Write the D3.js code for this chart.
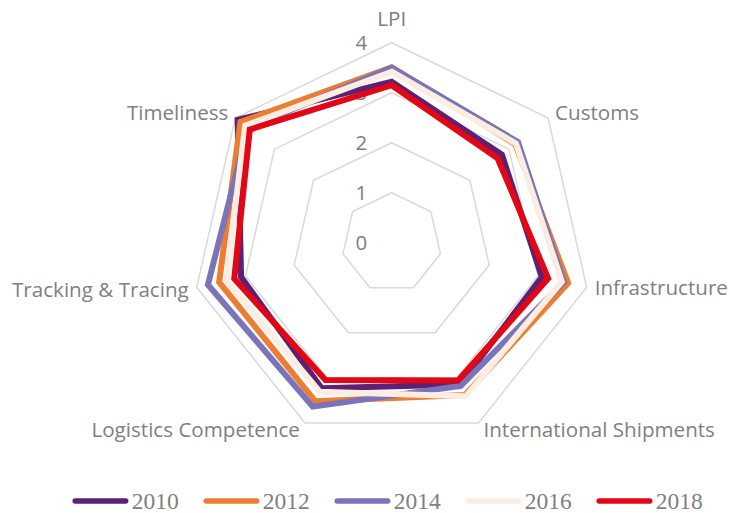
<!DOCTYPE html>
<html>
<head>
<meta charset="utf-8">
<script src="https://cdn.jsdelivr.net/npm/d3@7"></script>
<style>
  html, body { margin: 0; padding: 0; background: #fff; }
  svg { display: block; }
</style>
</head>
<body>
<svg id="chart" width="730" height="513"></svg>
<script>
// ---- data ----
const axesLabels = ["LPI", "Customs", "Infrastructure", "International Shipments",
                    "Logistics Competence", "Tracking & Tracing", "Timeliness"];
const years = ["2010", "2012", "2014", "2016", "2018"];
const values2010 = [3.22, 2.82, 3.08, 3.15, 3.23, 3.09, 3.94];
const values2012 = [3.51, 3.16, 3.62, 3.38, 3.52, 3.54, 3.87];
const values2014 = [3.50, 3.23, 3.53, 3.18, 3.64, 3.77, 3.68];
const values2016 = [3.42, 3.18, 3.49, 3.41, 3.31, 3.39, 3.75];
const values2018 = [3.15, 2.71, 3.21, 3.06, 3.05, 3.23, 3.63];
const tickValues = [0, 1, 2, 3, 4];
const colors = ["#5C2074", "#ED7D31", "#7B74B8", "#FCEDE3", "#E30615"];

const series = [values2010, values2012, values2014, values2016, values2018];

// ---- layout ----
const svg = d3.select("#chart");
const cx = 391.7, cy = 242.7, R = 200;
const n = axesLabels.length;
const r = d3.scaleLinear().domain([0, 4]).range([0, R]);
const angle = d3.scalePoint().domain(d3.range(n + 1)).range([0, 2 * Math.PI]);
const g = svg.append("g").attr("transform", `translate(${cx},${cy})`);

const radial = d3.lineRadial()
  .angle((d, i) => angle(i))
  .radius(d => r(d))
  .curve(d3.curveLinearClosed);

// grid
g.selectAll(".grid").data(tickValues.filter(t => t > 0)).enter()
  .append("path")
  .attr("d", t => radial(d3.range(n).map(() => t)))
  .attr("fill", "none")
  .attr("stroke", "#D9D9D9")
  .attr("stroke-width", 1.5);

// tick labels
g.selectAll(".tick").data(tickValues).enter()
  .append("text")
  .attr("x", -24.5)
  .attr("y", t => -r(t))
  .attr("dy", "0.36em")
  .attr("text-anchor", "end")
  .attr("font-family", "'Open Sans', 'Noto Sans', sans-serif")
  .attr("font-size", 20.5)
  .attr("fill", "#808080")
  .text(t => t);

// series
series.forEach((vals, k) => {
  g.append("path")
    .attr("d", radial(vals))
    .attr("fill", "none")
    .attr("stroke", colors[k])
    .attr("stroke-width", 6)
    .attr("stroke-linejoin", "miter");
});

// axis labels
const labelOffsets = [[0, -17, "middle"], [7, 2, "start"], [8, 8, "start"], [5, 14, "start"],
                      [-5, 14, "end"], [-8, 9.5, "end"], [-7, 2, "end"]];
axesLabels.forEach((lab, i) => {
  const a = angle(i);
  const x = Math.sin(a) * R, y = -Math.cos(a) * R;
  const o = labelOffsets[i];
  g.append("text")
    .attr("x", x + o[0])
    .attr("y", y + o[1])
    .attr("text-anchor", o[2])
    .attr("font-family", "'Open Sans', 'Noto Sans', sans-serif")
    .attr("font-size", 20.6)
    .attr("fill", "#808080")
    .text(lab);
});

// legend
const legend = svg.append("g");
years.forEach((yr, k) => {
  const x0 = 72.7 + k * 131;
  legend.append("line")
    .attr("x1", x0 + 2.5).attr("x2", x0 + 53)
    .attr("y1", 501).attr("y2", 501)
    .attr("stroke", colors[k])
    .attr("stroke-width", 5.5)
    .attr("stroke-linecap", "round");
  legend.append("text")
    .attr("x", x0 + 59)
    .attr("y", 508.5)
    .attr("font-family", "'Liberation Serif', 'Times New Roman', serif")
    .attr("font-size", 23.5)
    .attr("fill", "#808080")
    .text(yr);
});
</script>
</body>
</html>
